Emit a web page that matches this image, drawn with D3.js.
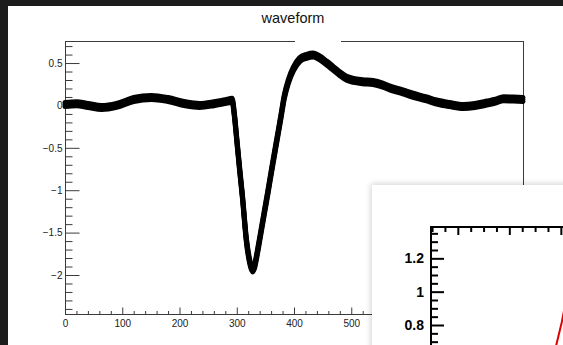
<!DOCTYPE html>
<html>
<head>
<meta charset="utf-8">
<script src="https://cdn.jsdelivr.net/npm/d3@7"></script>
<style>
  body { margin: 0; background: #1c1c1c; }
  svg { display: block; font-family: "Liberation Sans", Arial, Helvetica, sans-serif; }
</style>
</head>
<body>
<svg id="chart" width="563" height="345"></svg>
<script>
// waveform samples (time bin, amplitude)
const sampleTimes = [0, 20, 40, 64, 90, 120, 151, 180, 210, 235, 260, 280, 292,
  296, 300, 305, 310, 317, 322, 326, 328, 331, 335, 340, 348, 355, 362, 370, 377,
  383, 390, 399, 410, 422, 434, 445, 457, 468, 480, 492, 504, 520, 538, 555, 568,
  590, 608, 630, 649, 672, 696, 716, 737, 752, 766, 783, 800];
const amplitudes = [0.01, 0.02, 0.0, -0.025, 0.0, 0.07, 0.095, 0.07, 0.02, 0.0, 0.02, 0.045, 0.06,
  -0.12, -0.4, -0.75, -1.08, -1.6, -1.82, -1.92, -1.94, -1.9, -1.77, -1.58, -1.27, -1.0, -0.72, -0.41, -0.14,
  0.1, 0.28, 0.43, 0.54, 0.58, 0.595, 0.56, 0.5, 0.44, 0.375, 0.32, 0.295, 0.28, 0.27, 0.24, 0.205,
  0.16, 0.12, 0.08, 0.04, 0.01, -0.012, 0.0, 0.028, 0.05, 0.08, 0.075, 0.07];

const xMajorTicks = [0, 100, 200, 300, 400, 500, 600, 700, 800];
const yMajorTicks = [-2, -1.5, -1, -0.5, 0, 0.5];

// second canvas window overlapping the lower right corner
const insetTimes = [2.88, 2.95, 3.02, 3.09];
const insetValues = [0.64, 0.73, 0.82, 0.93];
const insetYTicks = [0.8, 1, 1.2];

const svg = d3.select("#chart");

// window background
svg.append("rect").attr("width", 563).attr("height", 345).attr("fill", "#1c1c1c");
svg.append("rect").attr("x", 8).attr("y", 6).attr("width", 555).attr("height", 339).attr("fill", "#fff");

const frame = { left: 65, right: 523, top: 41, bottom: 314 };
const win = { left: 372, top: 185 };

const x = d3.scaleLinear().domain([0, 800]).range([frame.left, frame.right]);
const y = d3.scaleLinear().domain([-2.46, 0.76]).range([frame.bottom, frame.top]);

const frameColor = "#3a3a3a";
const fmt = d3.format("");

// minor ticks
const yMinor = d3.range(-24, 8).map(d => d / 10).filter(d => !yMajorTicks.some(m => Math.abs(m - d) < 1e-6));
const xMinor = d3.range(0, 801, 20).filter(d => d % 100 !== 0);

const yMinorAxis = svg.append("g")
  .attr("transform", `translate(${frame.left + 0.5},0)`)
  .call(d3.axisLeft(y).tickValues(yMinor).tickSize(-7).tickFormat(""));
yMinorAxis.select(".domain").remove();

const yAxis = svg.append("g")
  .attr("transform", `translate(${frame.left + 0.5},0)`)
  .call(d3.axisLeft(y).tickValues(yMajorTicks).tickSize(-14).tickPadding(3).tickFormat(fmt));
yAxis.select(".domain").remove();

const xMinorAxis = svg.append("g")
  .attr("transform", `translate(0,${frame.bottom + 0.5})`)
  .call(d3.axisBottom(x).tickValues(xMinor).tickSize(-3.5).tickFormat(""));
xMinorAxis.select(".domain").remove();

// labels that sit under the other window are not drawn
const xAxis = svg.append("g")
  .attr("transform", `translate(0,${frame.bottom + 0.5})`)
  .call(d3.axisBottom(x).tickValues(xMajorTicks).tickSize(-7).tickPadding(5)
    .tickFormat(d => x(d) + 10 < win.left ? fmt(d) : ""));
xAxis.select(".domain").remove();

svg.selectAll(".tick line").attr("stroke", frameColor);
svg.selectAll(".tick text").attr("fill", "#222").style("font-size", "10px");

svg.append("rect")
  .attr("x", frame.left + 0.5).attr("y", frame.top + 0.5)
  .attr("width", frame.right - frame.left).attr("height", frame.bottom - frame.top)
  .attr("fill", "none").attr("stroke", frameColor);

// title box knocks a hole in the top of the frame
svg.append("rect").attr("x", 295).attr("y", 37).attr("width", 46).attr("height", 8).attr("fill", "#fff");
svg.append("text")
  .attr("x", 293).attr("y", 23)
  .attr("text-anchor", "middle")
  .style("font-size", "14.5px")
  .attr("fill", "#111")
  .text("waveform");

// waveform: several overlapping traces give the thick band
const line = d3.line()
  .x((d, i) => x(sampleTimes[i]))
  .y(d => y(d))
  .curve(d3.curveMonotoneX);

[-2, 0, 2].forEach(off => {
  svg.append("path")
    .datum(amplitudes)
    .attr("transform", `translate(0,${off})`)
    .attr("d", line)
    .attr("fill", "none")
    .attr("stroke", "#000")
    .attr("stroke-width", 5)
    .attr("stroke-linecap", "round")
    .attr("stroke-linejoin", "round");
});

// ---- overlapping window ----
const defs = svg.append("defs");
defs.append("filter").attr("id", "shadow").attr("x", "-10%").attr("y", "-10%").attr("width", "120%").attr("height", "120%")
  .append("feGaussianBlur").attr("stdDeviation", 3);

svg.append("rect")
  .attr("x", win.left - 1).attr("y", win.top - 1)
  .attr("width", 200).attr("height", 200)
  .attr("fill", "#000").attr("opacity", 0.18)
  .attr("filter", "url(#shadow)");
svg.append("rect")
  .attr("x", win.left).attr("y", win.top)
  .attr("width", 563 - win.left).attr("height", 345 - win.top)
  .attr("fill", "#fff");

const inset = svg.append("g");
const ix = d3.scaleLinear().domain([0.46, 3.1]).range([430, 566]);
const iy = d3.scaleLinear().domain([0.5, 1.394]).range([375, 226]);

const iyMinor = d3.range(14, 28).map(d => d / 20).filter(d => !insetYTicks.some(m => Math.abs(m - d) < 1e-6));
const ixMinor = d3.range(2, 13).map(d => d / 4).filter(d => d % 1 !== 0);
const ixMajor = [1, 2, 3];

const iyMinorAxis = inset.append("g").attr("transform", "translate(431,0)")
  .call(d3.axisLeft(iy).tickValues(iyMinor).tickSize(-7).tickFormat(""));
const iyAxis = inset.append("g").attr("transform", "translate(431,0)")
  .call(d3.axisLeft(iy).tickValues(insetYTicks).tickSize(-13).tickPadding(7).tickFormat(fmt));
const ixMinorAxis = inset.append("g").attr("transform", "translate(0,227)")
  .call(d3.axisTop(ix).tickValues(ixMinor).tickSize(-5).tickFormat(""));
const ixAxis = inset.append("g").attr("transform", "translate(0,227)")
  .call(d3.axisTop(ix).tickValues(ixMajor).tickSize(-8).tickFormat(""));
[iyMinorAxis, iyAxis, ixMinorAxis, ixAxis].forEach(a => a.select(".domain").remove());

inset.selectAll(".tick line").attr("stroke", "#000").attr("stroke-width", 2);
inset.selectAll(".tick text").attr("fill", "#000").style("font-size", "14px").style("font-weight", "bold");

inset.append("path")
  .attr("d", `M431,345V227H563`)
  .attr("fill", "none").attr("stroke", "#000").attr("stroke-width", 2);

inset.append("path")
  .datum(insetValues)
  .attr("d", d3.line().x((d, i) => ix(insetTimes[i])).y(d => iy(d)))
  .attr("fill", "none")
  .attr("stroke", "#e00000")
  .attr("stroke-width", 2);
</script>
</body>
</html>
